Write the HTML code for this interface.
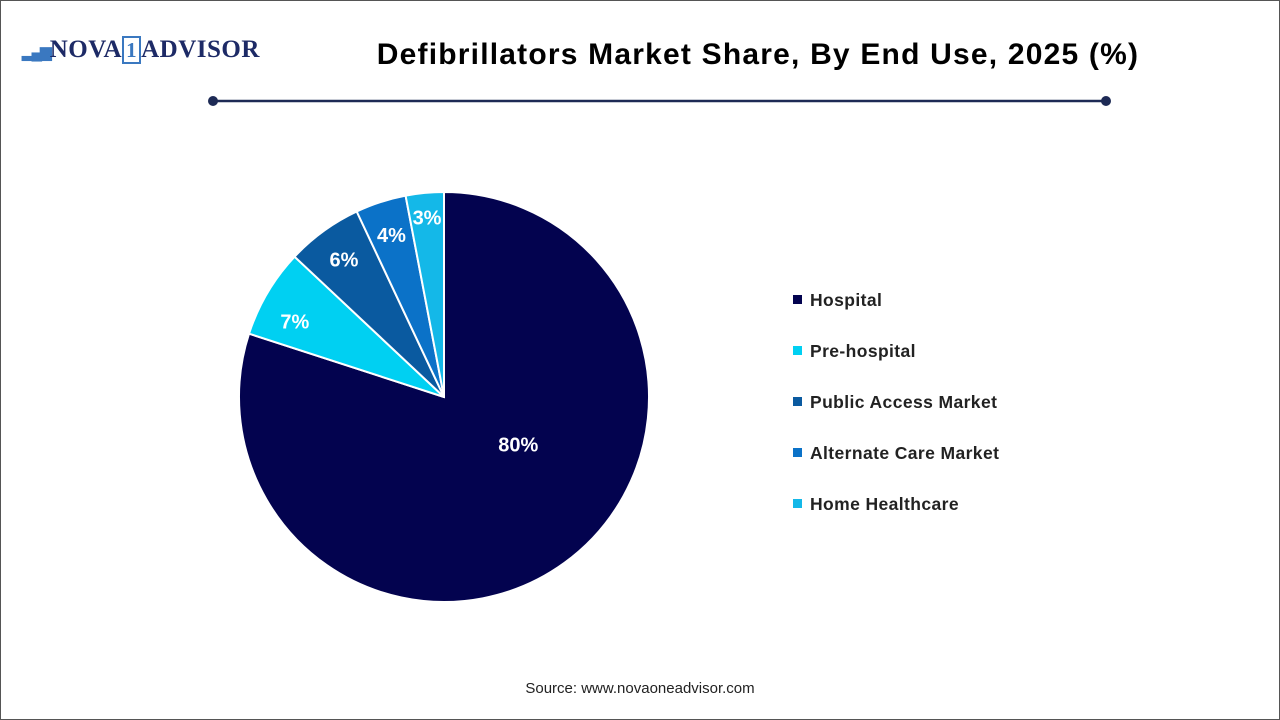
<!DOCTYPE html>
<html><head><meta charset="utf-8"><style>
body{margin:0;width:1280px;height:720px;background:#fff;font-family:"Liberation Sans",sans-serif;overflow:hidden}
.frame{position:absolute;left:0;top:0;width:1278px;height:718px;border:1px solid #555}
.logo{position:absolute;left:22px;top:36px;font-family:"Liberation Serif",serif;font-weight:bold;font-size:25px;color:#1d2a66;letter-spacing:0.5px}
.title{position:absolute;left:0;width:1516px;top:38px;text-align:center;font-weight:bold;font-size:30px;color:#000;letter-spacing:1.2px}
.source{position:absolute;left:0;width:1280px;top:680px;text-align:center;font-size:15px;color:#222}
.leg{position:absolute;left:793px;font-size:17.5px;font-weight:bold;color:#222;letter-spacing:0.4px}
.leg i{display:inline-block;width:9px;height:9px;margin-right:8px;vertical-align:2px}
</style></head><body>
<div class="frame"></div>
<div class="logo"><span style="color:#3a78c0;font-size:15px;letter-spacing:-2px">▂▄▆</span>NOVA<span style="border:2px solid #3a78c0;padding:0 2px;color:#3a78c0;font-size:21px">1</span>ADVISOR</div>
<div class="title">Defibrillators Market Share, By End Use, 2025 (%)</div>
<svg width="1280" height="720" style="position:absolute;left:0;top:0" id="svg">
<line x1="213" y1="101" x2="1106" y2="101" stroke="#1d2a55" stroke-width="2.5"/>
<circle cx="213" cy="101" r="5" fill="#1d2a55"/>
<circle cx="1106" cy="101" r="5" fill="#1d2a55"/>
<g id="pie"></g>
</svg>
<div id="legend"></div>
<div class="source">Source: www.novaoneadvisor.com</div>
<script>
const categories=["Hospital","Pre-hospital","Public Access Market","Alternate Care Market","Home Healthcare"];
const values=[80,7,6,4,3];
const colors=["#03034f","#00d0f2","#0a5aa0","#0b72c8","#14b8e8"];
const cx=444,cy=397,R=205;
const g=document.getElementById('pie');const NS="http://www.w3.org/2000/svg";
const total=values.reduce((a,b)=>a+b,0);
let a0=0;
values.forEach((v,i)=>{
  const a1=a0+v/total*2*Math.PI;
  const p=(a)=>[cx+R*Math.sin(a),cy-R*Math.cos(a)];
  const [x0,y0]=p(a0),[x1,y1]=p(a1);
  const path=document.createElementNS(NS,'path');
  path.setAttribute('d',`M${cx},${cy}L${x0},${y0}A${R},${R} 0 ${a1-a0>Math.PI?1:0} 1 ${x1},${y1}Z`);
  path.setAttribute('fill',colors[i]);path.setAttribute('stroke','#fff');path.setAttribute('stroke-width','2');
  
  
  g.appendChild(path);
  const m=(a0+a1)/2;const f=v>50?0.45:(v<=3?0.88:(v>=7?0.8:0.83));
  let lx=cx+R*f*Math.sin(m),ly=cy-R*f*Math.cos(m);
  if(v>50){lx+=20;ly-=27;}
  if(v>=7&&v<50){lx-=8;ly+=8;}
  const t=document.createElementNS(NS,'text');
  t.setAttribute('x',lx);t.setAttribute('y',ly+7);t.setAttribute('text-anchor','middle');
  t.setAttribute('fill','#fff');t.setAttribute('font-size','20');t.setAttribute('font-weight','bold');
  t.setAttribute('font-family','Liberation Sans, sans-serif');
  t.textContent=v+'%';
  
  
  g.appendChild(t);
  a0=a1;
});
const L=document.getElementById('legend');
categories.forEach((c,i)=>{
  const d=document.createElement('div');d.className='leg';d.style.top=(290+i*51)+'px';
  d.innerHTML=`<i style="background:${colors[i]}"></i>${c}`;
  
  
  L.appendChild(d);
});
</script>
</body></html>
